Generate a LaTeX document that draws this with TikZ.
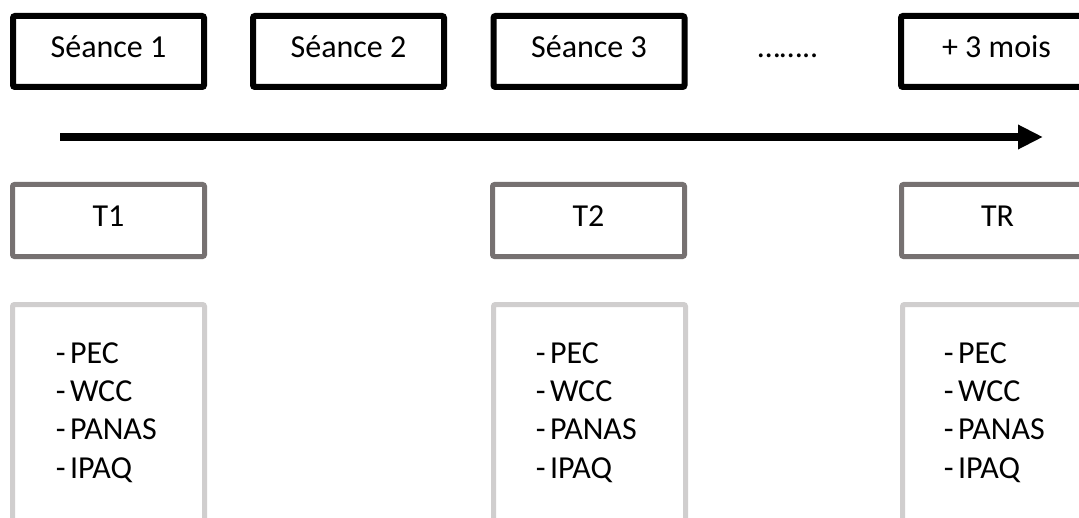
\documentclass[tikz,border=0pt]{standalone}
\usepackage{fontspec}
\setmainfont{Carlito}
\usetikzlibrary{arrows.meta}
\definecolor{tgray}{HTML}{767171}
\definecolor{lgray}{HTML}{D0CECE}
\tikzset{
  seance/.style={draw=black, line width=3pt, rounded corners=1pt, minimum width=95.5pt, minimum height=35.5pt, inner sep=0pt, text height=0.85em, text depth=0.2em},
  tbox/.style={draw=tgray, line width=2.5pt, rounded corners=1pt, minimum width=96pt, minimum height=36pt, inner sep=0pt, text height=0.85em, text depth=0.2em},
  mbox/.style={draw=lgray, line width=2.5pt, rounded corners=1pt, minimum width=96pt, minimum height=130pt, inner sep=0pt},
  item/.style={anchor=base west, inner sep=0pt},
  plain/.style={inner sep=0pt, text height=0.85em, text depth=0.2em}
}
\begin{document}
\begin{tikzpicture}[x=0.5pt, y=-0.5pt, font=\fontsize{16pt}{19.2pt}\selectfont]
\path[use as bounding box, clip] (0,0) rectangle (1079,518);
\fill[white] (0,0) rectangle (1079,518);
% top row
\node[seance] (s1) at (108.5,51.5) {Séance 1};
\node[seance] (s2) at (348.5,51.5) {Séance 2};
\node[seance] (s3) at (589,51.5) {Séance 3};
\node[plain] (dots) at (788,51.5) {……..};
\node[seance] (s4) at (996.5,51.5) {+ 3 mois};
% arrow
\coordinate (a0) at (60,137);
\coordinate (a1) at (1043,137);
\draw[line width=4pt, -{Triangle[length=12.5pt, width=11.5pt]}] (a0) -- (a1);
% T row
\node[tbox] (t1) at (108.5,220.5) {T1};
\node[tbox] (t2) at (588.5,220.5) {T2};
\node[tbox] (tr) at (997.5,220.5) {TR};
% measure boxes
\node[mbox] (m1) at (108.5,434.5) {};
\node[mbox] (m2) at (589.5,434.5) {};
\node[mbox] (m3) at (998.5,434.5) {};
\foreach \c/\x in {1/55.5, 2/535.5, 3/943.5}{
  \node[item] (p\c) at (\x,363) {-\kern2.2pt PEC};
  \node[item] (w\c) at (\x,401.3) {-\kern2.2pt WCC};
  \node[item] (n\c) at (\x,439.6) {-\kern2.2pt PANAS};
  \node[item] (i\c) at (\x,478) {-\kern2.2pt IPAQ};
}
\end{tikzpicture}
\end{document}
